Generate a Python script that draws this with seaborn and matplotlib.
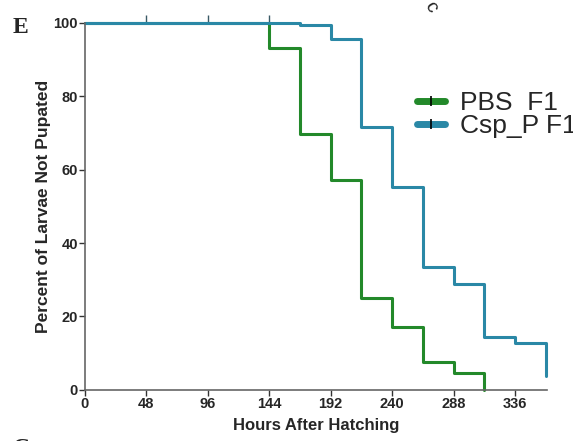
import matplotlib
matplotlib.use("Agg")
import matplotlib.pyplot as plt
from matplotlib.lines import Line2D
import seaborn as sns
import pandas as pd

# Kaplan-Meier style survival (percent of larvae not yet pupated)
pbs_hours = [0, 144, 168, 192, 216, 240, 264, 288, 312]
pbs_pct = [100, 93.3, 69.7, 57.2, 25.1, 17.2, 7.6, 4.6, 0]

csp_hours = [0, 168, 192, 216, 240, 264, 288, 312, 336, 360]
csp_pct = [100, 99.5, 95.7, 71.7, 55.3, 33.5, 28.9, 14.4, 12.8, 3.8]

censor_hours = [48, 96, 144]
x_ticks = [0, 48, 96, 144, 192, 240, 288, 336]
y_ticks = [0, 20, 40, 60, 80, 100]
group_names = ["PBS  F1", "Csp_P F1"]
green = "#23892a"
teal = "#2a88a6"

sns.set_theme(style="white")
plt.rcParams["font.family"] = ["Liberation Sans", "DejaVu Sans"]

df = pd.concat([
    pd.DataFrame({"hours": pbs_hours, "pct": pbs_pct, "group": group_names[0]}),
    pd.DataFrame({"hours": csp_hours, "pct": csp_pct, "group": group_names[1]}),
])

fig = plt.figure(figsize=(5.73, 4.41), dpi=100)
ax = fig.add_axes([0.148, 0.116, 0.807, 0.832])

sns.lineplot(data=df, x="hours", y="pct", hue="group",
             palette=[green, teal], estimator=None, sort=False,
             drawstyle="steps-post", linewidth=2.2, legend=False, ax=ax,
             clip_on=False)
# censor marks along the top
sns.scatterplot(x=censor_hours, y=[101] * len(censor_hours), marker="|",
                s=40, color="#3a5a66", linewidth=1.0, ax=ax, clip_on=False)

ax.set_xlim(0, 361)
ax.set_ylim(0, 100)
ax.set_xticks(x_ticks)
ax.set_yticks(y_ticks)
ax.set_xticklabels([str(v) for v in x_ticks], fontsize=10.5, fontweight="bold")
ax.set_yticklabels([str(v) for v in y_ticks], fontsize=10.5, fontweight="bold")
ax.tick_params(axis="both", direction="out", length=4, width=1, color="#333333",
               pad=1, bottom=True, left=True)
for side in ["top", "right"]:
    ax.spines[side].set_visible(False)
for side in ["left", "bottom"]:
    ax.spines[side].set_color("#666666")
    ax.spines[side].set_linewidth(1.2)

ax.set_xlabel("Hours After Hatching", fontsize=12, fontweight="bold", labelpad=5)
ax.set_ylabel("Percent of Larvae Not Pupated", fontsize=12.5, fontweight="bold", labelpad=2)

handles = [Line2D([0], [0], color=c, lw=5, marker="|", markersize=7,
                  markeredgecolor="black", markeredgewidth=1.2)
           for c in [green, teal]]
fig.legend(handles, group_names, loc="upper left", bbox_to_anchor=(0.71, 0.817),
           frameon=False, handlelength=1.05, handletextpad=0.55,
           labelspacing=-0.04, borderaxespad=0,
           prop={"family": ["Liberation Sans", "DejaVu Sans"], "size": 19})

# panel letters
fig.text(0.022, 0.925, "E", fontsize=17, fontweight="bold",
         family=["Liberation Serif", "DejaVu Serif"])
fig.text(0.022, -0.03, "C", fontsize=17, fontweight="bold",
         family=["Liberation Serif", "DejaVu Serif"])
fig.text(0.735, 0.975, "c", fontsize=14, rotation=-60,
         family=["Liberation Sans", "DejaVu Sans"])

fig.savefig("out.png", dpi=100)
